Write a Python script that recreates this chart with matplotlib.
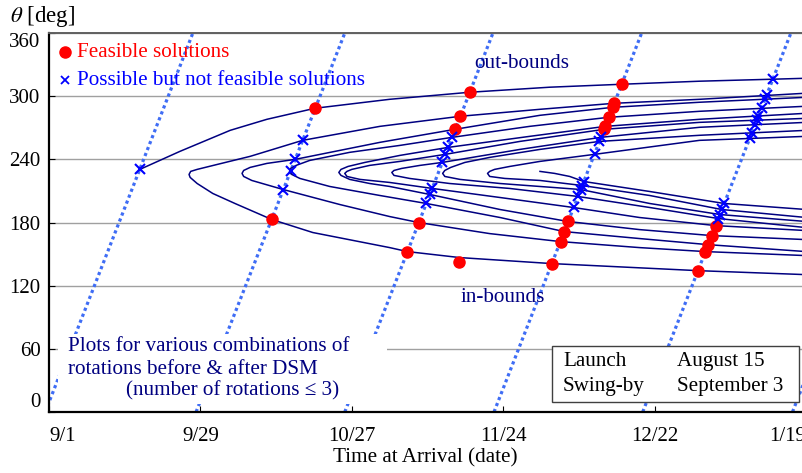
import matplotlib.pyplot as plt
from matplotlib.patches import Rectangle

plt.rcParams['font.family'] = ['Liberation Serif', 'DejaVu Serif']
plt.rcParams['mathtext.fontset'] = 'stix'

# x = days after 9/1 (arrival), y = theta [deg]
tick_days = [0, 28, 56, 84, 112, 140]
tick_dates = ['9/1', '9/29', '10/27', '11/24', '12/22', '1/19']
theta_ticks = [0, 60, 120, 180, 240, 300, 360]

# dotted guide lines: arrival day at theta = 0 and at theta = 360
guide_day0 = [-0.7, 27.2, 54.7, 82.3, 109.8, 137.5]
guide_day360 = [26.6, 54.7, 82.1, 109.6, 137.2, 164.9]

# solution curves (upper "out-bounds" branch, nose, lower "in-bounds" branch)
c0_day = [16.8, 24.2, 33.5, 40.3, 49.2, 63.0, 77.8, 92.6, 105.9, 120.3, 133.9, 140]
c0_theta = [230.5, 247.6, 267.6, 278.1, 288.6, 297.1, 303.8, 308.6, 311.4, 314.3, 316.2, 317.1]

c1_day = [140, 120.3, 104.5, 90.8, 76.1, 61.2, 46.9, 37.2, 31.1, 27.4, 26.2, 25.9,
          26.1, 27.4, 30.3, 34.4, 41.2, 48.8, 63.0, 66.3, 76.0, 93.0, 120.0, 140]
c1_theta = [302.9, 297.1, 293.3, 287.6, 281.0, 271.4, 258.1, 242.9, 235.2, 230.5, 228.6, 225.7,
            222.9, 217.1, 207.6, 198.1, 182.9, 170.5, 156.2, 152.4, 146.7, 141.0, 134.3, 130.5]

c2_day = [140, 120.3, 104.3, 90.8, 75.1, 61.2, 45.5, 40.3, 37.2, 36.0, 35.7,
          36.0, 37.5, 43.3, 53.8, 63.0, 68.4, 81.5, 94.6, 109.2, 121.4, 140]
c2_theta = [299.0, 294.3, 289.5, 281.9, 268.6, 256.2, 240.0, 236.2, 232.4, 229.5, 226.7,
            223.8, 220.0, 211.4, 197.1, 185.7, 180.0, 169.5, 161.9, 156.2, 152.4, 148.6]

c3_day = [140, 120.3, 103.5, 88.9, 74.6, 64.9, 55.6, 48.2, 45.7, 44.7, 44.5,
          44.9, 46.4, 51.9, 61.2, 69.8, 83.4, 95.3, 109.2, 121.9, 140]
c3_theta = [290.5, 285.7, 280.0, 271.4, 261.0, 253.3, 246.7, 239.0, 234.3, 231.4, 228.6,
            225.7, 221.9, 214.3, 205.7, 198.1, 184.8, 171.4, 164.8, 159.0, 152.4]

c4_day = [140, 120.3, 102.9, 88.9, 73.8, 64.9, 58.4, 55.3, 54.0, 53.6,
          54.0, 55.6, 59.3, 63.0, 70.4, 83.4, 96.0, 109.2, 122.6, 140]
c4_theta = [283.8, 278.1, 271.4, 261.9, 251.4, 243.8, 237.1, 233.3, 230.5, 227.6,
            224.8, 221.0, 217.1, 214.3, 206.7, 192.4, 181.0, 173.3, 167.6, 163.8]

c5_day = [140, 120.3, 102.7, 87.1, 73.3, 64.9, 59.3, 56.0, 55.1, 54.7,
          55.1, 57.5, 63.0, 70.9, 83.4, 97.0, 109.2, 123.3, 140]
c5_theta = [279.0, 275.2, 268.6, 257.1, 244.8, 238.1, 234.3, 230.5, 228.6, 226.7,
            223.8, 221.0, 218.1, 212.4, 203.8, 194.3, 184.8, 177.1, 172.4]

c6_day = [140, 120.3, 102.1, 87.1, 72.7, 68.6, 65.2, 63.8, 63.4,
          63.8, 66.7, 74.1, 85.2, 97.8, 111.1, 123.8, 140]
c6_theta = [275.2, 270.5, 261.0, 249.5, 237.1, 234.3, 231.4, 229.5, 227.6,
            224.8, 221.9, 217.1, 212.4, 204.8, 194.3, 183.8, 175.2]

c7_day = [140, 120.3, 101.8, 90.8, 81.5, 76.9, 74.3, 73.2, 72.8,
          73.2, 76.0, 83.4, 98.3, 111.1, 124.1, 140]
c7_theta = [267.6, 262.9, 257.1, 249.5, 241.9, 237.1, 232.4, 229.5, 226.7,
            223.8, 221.0, 217.1, 211.4, 198.1, 187.6, 181.0]

c8_day = [140, 120.3, 100.9, 90.8, 85.2, 82.4, 81.5, 81.1,
          81.5, 84.3, 90.8, 98.6, 111.1, 124.4, 140]
c8_theta = [261.9, 258.1, 244.8, 238.1, 233.3, 230.5, 228.6, 226.7,
            223.8, 221.9, 220.0, 215.2, 205.7, 192.4, 184.8]

c9_day = [90.8, 93.5, 96.3, 98.9, 111.1, 124.9, 140]
c9_theta = [228.6, 226.7, 223.8, 219.0, 209.5, 198.1, 192.4]

# feasible solutions (red dots)
feas_day = [49.2, 41.2,
            77.8, 76.1, 75.1, 68.4, 66.3, 75.8,
            105.9, 104.5, 104.3, 103.5, 102.9, 102.7, 96.0, 95.3, 94.6, 93.0,
            123.3, 122.6, 121.9, 121.4, 120.0]
feas_theta = [288.6, 182.9,
              303.8, 281.0, 268.6, 180.0, 152.4, 142.9,
              311.4, 293.3, 289.5, 280.0, 271.4, 268.6, 181.0, 171.4, 161.9, 141.0,
              177.1, 167.6, 159.0, 152.4, 134.3]

# possible but not feasible solutions (blue crosses)
poss_day = [16.8,
            46.9, 45.5, 44.7, 43.3,
            74.6, 73.8, 73.3, 72.7, 70.9, 70.4, 69.8,
            102.1, 101.8, 100.9, 98.9, 98.6, 98.3, 97.8, 97.0,
            133.9, 132.7, 132.4, 131.8, 131.2, 130.9, 130.6, 130.0, 129.6,
            124.9, 124.4, 124.1, 123.8]
poss_theta = [230.5,
              258.1, 240.0, 228.6, 211.4,
              261.0, 251.4, 244.8, 237.1, 212.4, 206.7, 198.1,
              261.0, 257.1, 244.8, 219.0, 215.2, 211.4, 204.8, 194.3,
              316.2, 301.0, 297.1, 288.6, 281.2, 277.3, 272.9, 265.2, 259.9,
              198.1, 192.4, 187.6, 183.8]

curves = [(c0_day, c0_theta), (c1_day, c1_theta), (c2_day, c2_theta),
          (c3_day, c3_theta), (c4_day, c4_theta), (c5_day, c5_theta),
          (c6_day, c6_theta), (c7_day, c7_theta), (c8_day, c8_theta),
          (c9_day, c9_theta)]

navy = '#000080'
fs = 15.2

fig = plt.figure(figsize=(8.02, 4.73), dpi=100)
ax = fig.add_axes([0.0611, 0.129, 0.9439, 0.801])

# guide lines
for d0, d1 in zip(guide_day0, guide_day360):
    ax.plot([d0, d1], [0, 360], color='#3f6df5', lw=2.3, ls=(0, (1, 1)), zorder=2)

# solution curves
for cd, ct in curves:
    ax.plot(cd, ct, color=navy, lw=1.1, zorder=3)

ax.plot(feas_day, feas_theta, 'o', color='red', ms=8, zorder=6)
ax.plot(poss_day, poss_theta, 'x', color='blue', ms=7, mew=1.5, zorder=6)

ax.set_xlim(0, 140)
ax.set_ylim(0, 360)
ax.set_xticks(tick_days)
ax.set_xticklabels(tick_dates)
ax.set_yticks(theta_ticks)
ax.tick_params(direction='in', length=4, labelsize=15)
ax.tick_params(axis='x', pad=11)
ax.tick_params(axis='y', pad=6)
ax.yaxis.grid(True, color='#a0a0a0', lw=1)
ax.set_axisbelow(True)

xl = ax.get_xticklabels()
xl[0].set_horizontalalignment('left')
xl[-1].set_horizontalalignment('right')
yl = ax.get_yticklabels()
yl[0].set_verticalalignment('bottom')
yl[-1].set_verticalalignment('top')

ax.spines['right'].set_visible(False)
ax.spines['left'].set_linewidth(1.6)
ax.spines['bottom'].set_linewidth(1.6)
ax.spines['top'].set_color('#606060')
ax.spines['top'].set_linewidth(1.4)

# legend entries
ax.plot([0.021], [0.950], 'o', color='red', ms=8, transform=ax.transAxes, clip_on=False)
ax.text(0.037, 0.950, 'Feasible solutions', color='red', fontsize=fs,
        va='center', transform=ax.transAxes)
ax.plot([0.021], [0.876], 'x', color='blue', ms=6, mew=1.3, transform=ax.transAxes, clip_on=False)
ax.text(0.037, 0.876, 'Possible but not feasible solutions', color='blue', fontsize=fs,
        va='center', transform=ax.transAxes)

ax.text(0.562, 0.921, 'out-bounds', color=navy, fontsize=fs, va='center', transform=ax.transAxes)
ax.text(0.544, 0.301, 'in-bounds', color=navy, fontsize=fs, va='center', transform=ax.transAxes)

# note in the lower left corner
ax.add_patch(Rectangle((0.012, 0.021), 0.434, 0.185, facecolor='white', edgecolor='none',
                       transform=ax.transAxes, zorder=4))
ax.text(0.025, 0.172, 'Plots for various combinations of', color=navy, fontsize=fs,
        va='center', transform=ax.transAxes, zorder=5)
ax.text(0.025, 0.111, 'rotations before & after DSM', color=navy, fontsize=fs,
        va='center', transform=ax.transAxes, zorder=5)
ax.text(0.102, 0.055, '(number of rotations \u2264 3)', color=navy, fontsize=fs,
        va='center', transform=ax.transAxes, zorder=5)

# launch / swing-by box
ax.add_patch(Rectangle((0.664, 0.026), 0.327, 0.148, facecolor='white', edgecolor='#404040',
                       lw=1.0, transform=ax.transAxes, zorder=4))
ax.text(0.679, 0.132, 'Launch', fontsize=fs, va='center', transform=ax.transAxes, zorder=5)
ax.text(0.829, 0.132, 'August 15', fontsize=fs, va='center', transform=ax.transAxes, zorder=5)
ax.text(0.679, 0.066, 'Swing-by', fontsize=fs, va='center', transform=ax.transAxes, zorder=5)
ax.text(0.829, 0.066, 'September 3', fontsize=fs, va='center', transform=ax.transAxes, zorder=5)

fig.text(0.012, 0.966, r'$\theta$ [deg]', fontsize=16.5, va='center')
fig.text(0.53, 0.032, 'Time at Arrival (date)', fontsize=fs, ha='center', va='center')

fig.savefig('out.png', dpi=100)
